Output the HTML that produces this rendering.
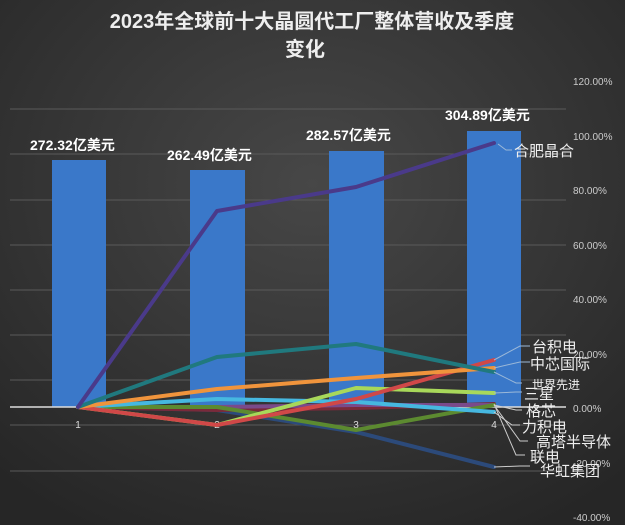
<!DOCTYPE html>
<html><head><meta charset="utf-8"><style>
body{margin:0;width:625px;height:525px;overflow:hidden;background:#2e2e2e}
svg{display:block}
text{font-family:"Liberation Sans","Noto Sans CJK SC",sans-serif}
</style></head><body>
<svg width="625" height="525" xmlns="http://www.w3.org/2000/svg">
<defs><radialGradient id="bg" cx="50%" cy="35%" r="75%"><stop offset="0" stop-color="#474747"/><stop offset="1" stop-color="#262626"/></radialGradient></defs>
<rect width="625" height="525" fill="url(#bg)"/>
<text x="312" y="28" text-anchor="middle" fill="#eee" font-size="20" font-weight="bold">2023年全球前十大晶圆代工厂整体营收及季度</text>
<text x="305" y="56" text-anchor="middle" fill="#eee" font-size="20" font-weight="bold">变化</text>
<g stroke="#5a5a5a" stroke-width="1">
<line x1="10" x2="566" y1="109" y2="109"/><line x1="10" x2="566" y1="154" y2="154"/><line x1="10" x2="566" y1="200" y2="200"/><line x1="10" x2="566" y1="245" y2="245"/><line x1="10" x2="566" y1="290" y2="290"/><line x1="10" x2="566" y1="335" y2="335"/><line x1="10" x2="566" y1="380" y2="380"/><line x1="10" x2="566" y1="425" y2="425"/><line x1="10" x2="566" y1="471" y2="471"/>
</g>
<g fill="#3a78c9">
<rect x="52" y="160" width="54" height="247"/><rect x="190" y="170" width="55" height="237"/><rect x="329" y="151" width="55" height="256"/><rect x="467" y="131" width="54" height="276"/>
</g>
<line x1="10" x2="566" y1="407" y2="407" stroke="#ddd" stroke-width="1.5"/>
<g fill="#ddd" font-size="10"><text x="78" y="428" text-anchor="middle">1</text><text x="217" y="428" text-anchor="middle">2</text><text x="356" y="428" text-anchor="middle">3</text><text x="494" y="428" text-anchor="middle">4</text></g>
<g fill="#fff" font-size="14" font-weight="bold"><text x="30" y="150">272.32亿美元</text><text x="167" y="160">262.49亿美元</text><text x="306" y="140">282.57亿美元</text><text x="445" y="120">304.89亿美元</text></g>
<g fill="#ccc" font-size="10" text-anchor="start">
<text x="573" y="85">120.00%</text><text x="573" y="140">100.00%</text><text x="573" y="194">80.00%</text><text x="573" y="249">60.00%</text><text x="573" y="303">40.00%</text><text x="573" y="358">20.00%</text><text x="573" y="412">0.00%</text><text x="573" y="467">-20.00%</text><text x="573" y="521">-40.00%</text>
</g>
<g fill="none" stroke-width="4" stroke-linejoin="round" stroke-linecap="round">
<polyline stroke="#2c4a7a" points="78,407 217,410 356,432 494,467"/>
<polyline stroke="#7a2a3a" points="78,407 217,410 356,408 494,404"/>
<polyline stroke="#7a4a8a" points="78,407 217,407 356,405 494,405"/>
<polyline stroke="#5c8a30" points="78,407 217,407 356,430 494,405"/>
<polyline stroke="#46b8e0" points="78,407 217,399 356,402 494,412"/>
<polyline stroke="#a8d85a" points="78,407 217,425 356,388 494,393"/>
<polyline stroke="#d04848" points="78,407 217,425 356,399 494,360"/>
<polyline stroke="#f0943c" points="78,407 217,389 356,378 494,368"/>
<polyline stroke="#20797e" points="78,407 217,357 356,344 494,372"/>
<polyline stroke="#4a3a8a" points="78,407 217,211 356,187 494,143"/>
</g>
<g stroke="#9bb8d8" stroke-width="1" fill="none">
<polyline points="498,144 506,150 512,150"/>
<polyline points="494,360 520,346 530,346"/>
<polyline points="494,368 520,362 530,362"/>
<polyline points="494,372 516,383 522,383"/>
<polyline points="494,393 516,392 522,392"/>
<polyline points="494,405 516,410 522,410" stroke="#ccc"/>
<polyline points="494,412 512,425 520,425" stroke="#ccc"/>
<polyline points="494,405 520,441 528,441" stroke="#ccc"/>
<polyline points="494,404 516,455 525,455" stroke="#ccc"/>
<polyline points="494,467 520,466 530,466" stroke="#ccc"/>
</g>
<g fill="#eee" font-size="15">
<text x="514" y="156">合肥晶合</text>
<text x="532" y="352">台积电</text>
<text x="530" y="369">中芯国际</text>
<text x="532" y="389" font-size="12">世界先进</text>
<text x="524" y="399">三星</text>
<text x="526" y="416">格芯</text>
<text x="522" y="432">力积电</text>
<text x="536" y="447">高塔半导体</text>
<text x="530" y="462">联电</text>
<text x="540" y="476">华虹集团</text>
</g>
</svg>
</body></html>
